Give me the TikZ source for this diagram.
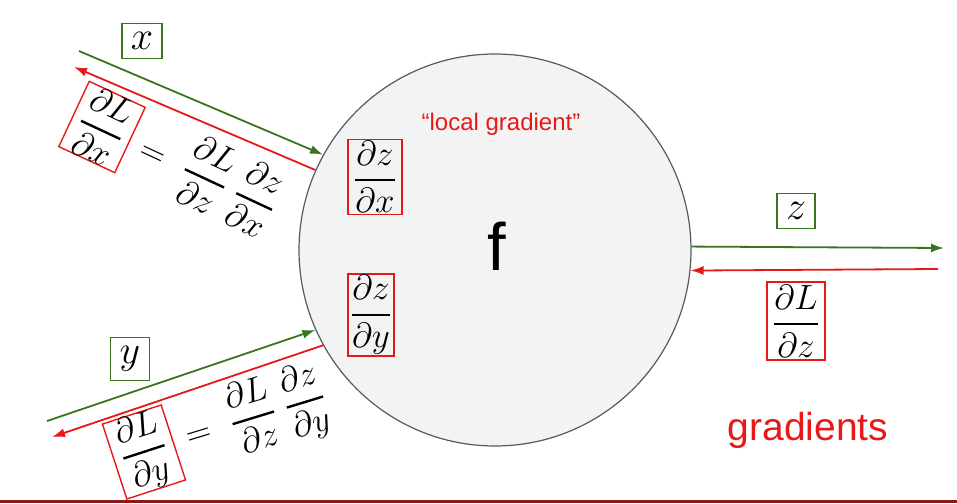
\RequirePackage{fix-cm}
\documentclass[tikz,border=0pt]{standalone}
\usepackage{amsmath}
\usepackage{fontspec}
\newfontfamily\arialfont{Liberation Sans}
\usetikzlibrary{arrows.meta,positioning,calc}

\definecolor{fgreen}{RGB}{56,118,29}
\definecolor{bred}{RGB}{232,24,24}
\definecolor{nodegray}{RGB}{243,243,243}
\definecolor{barred}{RGB}{140,24,28}
\newcommand{\fracsize}{\fontsize{35}{42}\selectfont}
\newcommand{\varsize}{\fontsize{40}{46}\selectfont}
\newcommand{\pdfrac}[2]{\genfrac{}{}{2.4pt}{0}{\partial #1}{\partial #2}}

\begin{document}
\begin{tikzpicture}[x=1pt, y=-1pt,
    fnode/.style={circle, draw=black!65, line width=1.2pt, fill=nodegray,
    minimum size=392pt, inner sep=0pt},
    gbox/.style={draw=fgreen, line width=1.4pt, inner xsep=9pt, inner ysep=9pt, font=\varsize},
    rbox/.style={draw=bred, line width=1.4pt, inner xsep=6pt, inner ysep=1.5pt, font=\fracsize},
    chain/.style={inner sep=0pt, font=\fracsize},
    fwd/.style={-{Latex[length=13pt, width=9pt]}, line width=1.8pt, fgreen},
    bwd/.style={-{Latex[length=13pt, width=9pt]}, line width=1.8pt, bred},
    redtext/.style={text=bred, font=\arialfont\fontsize{24}{28}\selectfont}]

    \useasboundingbox (0,0) rectangle (957,503);

    % Gate
    \node[fnode] (f) at (495,250) {};
    \node[font=\arialfont\fontsize{67}{70}\selectfont] (fname) at (497,246) {f};
    \node[redtext] (local) at (501,124) {“local gradient”};
    \node[rbox] (dzdx) at (375,177) {$\pdfrac{z}{x}$};
    \node[rbox, inner xsep=3pt] (dzdy) at (371,315) {$\pdfrac{z}{y}$};

    % Input x
    \node[gbox] (xvar) at (142,41) {$x$};
    \coordinate (xin) at (79,51);
    \coordinate (xout) at (74,67);
    \draw[fwd] (xin) -- (f.151);
    \draw[bwd] (f.156) -- (xout);
    \node[rbox, rotate=-25, inner xsep=8pt, inner ysep=0pt] (dLdx) at (102,127)
        {$\pdfrac{L}{x}$};
    \node[chain, rotate=-25, anchor=west] (chainx) at (dLdx.east)
        {$\hspace{13pt}=\hspace{12pt}\pdfrac{L}{z}\hspace{11pt}\pdfrac{z}{x}$};

    % Input y
    \node[gbox] (yvar) at (130,359) {$y$};
    \coordinate (yin) at (47,421);
    \coordinate (yout) at (52,437);
    \draw[fwd] (yin) -- (f.204);
    \draw[bwd] (f.209) -- (yout);
    \node[rbox, rotate=18, inner xsep=8pt, inner ysep=0pt] (dLdy) at (144,452)
        {$\pdfrac{L}{y}$};
    \node[chain, rotate=17, anchor=west] (chainy) at (dLdy.east)
        {$\hspace{13pt}=\hspace{12pt}\pdfrac{L}{z}\hspace{11pt}\pdfrac{z}{y}$};

    % Output z
    \node[gbox] (zvar) at (796,211) {$z$};
    \coordinate (zout) at (944,248);
    \coordinate (zin) at (938,269);
    \draw[fwd] (f.1) -- (zout);
    \draw[bwd] (zin) -- (f.354);
    \node[rbox, inner ysep=3pt] (dLdz) at (796,321) {$\pdfrac{L}{z}$};

    \node[redtext, font=\arialfont\fontsize{39}{44}\selectfont] (grads) at (808,430) {gradients};

    % bottom bar
    \draw[barred, line width=3pt] (0,501.5) -- (957,501.5);
\end{tikzpicture}
\end{document}
